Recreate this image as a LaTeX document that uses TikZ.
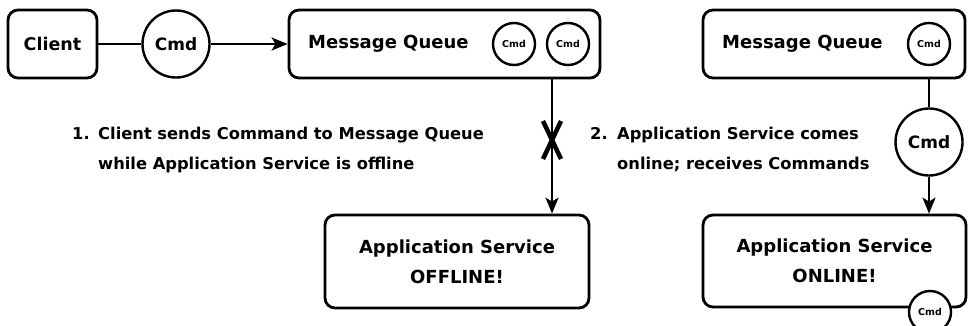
\documentclass[tikz,border=0pt]{standalone}
\usepackage{fontspec}
\setmainfont{DejaVu Sans}
\usetikzlibrary{arrows.meta}
\begin{document}
\begin{tikzpicture}[x=1pt,y=-1pt,
  box/.style={draw, line width=2.8pt, rounded corners=10pt, inner sep=0pt, align=center},
  bigc/.style={draw, circle, line width=2.4pt, minimum size=67pt, inner sep=0pt, font=\bfseries\fontsize{17}{20}\selectfont},
  smallc/.style={draw, circle, line width=2.4pt, minimum size=42pt, inner sep=0pt, fill=white, font=\bfseries\fontsize{9.5}{11}\selectfont},
  lbl/.style={font=\bfseries\fontsize{18}{30}\selectfont},
  steptxt/.style={font=\bfseries\fontsize{16.3}{30}\selectfont, inner sep=0pt, anchor=base west},
  conn/.style={line width=2.3pt},
  arr/.style={conn, -{Stealth[length=16pt, width=13pt, inset=4pt]}},
  xmk/.style={line width=4.5pt},
]
\useasboundingbox (0,0) rectangle (968,325);
% left scenario
\node[box, lbl, font=\bfseries\fontsize{17.5}{20}\selectfont, minimum width=89pt, minimum height=68pt] (client) at (52.5,44) {Client};
\node[bigc] (cmd1) at (176,44) {Cmd};
\node[box, minimum width=311pt, minimum height=68pt] (mq1) at (444.5,44) {};
\node[lbl, inner sep=0pt, anchor=west] (mq1t) at (308,44) {Message Queue};
\node[smallc] (c1) at (514,44) {Cmd};
\node[smallc] (c2) at (568,44) {Cmd};
\node[box, lbl, minimum width=264pt, minimum height=93pt] (app1) at (457,261.5) {Application Service\\OFFLINE!};
\draw[conn] (client.east) -- (cmd1.west);
\draw[arr] (cmd1.east) -- (mq1.west);
\coordinate (qx) at (552,0);
\draw[arr] (mq1.south -| qx) -- (app1.north -| qx);
\coordinate (xm) at (552,140);
\draw[xmk] (xm) ++(-9,-19) -- ++(18,38);
\draw[xmk] (xm) ++(9,-19) -- ++(-18,38);
% step texts
\node[steptxt] (n1) at (72,139) {1.};
\node[steptxt] (s1a) at (98,139) {Client sends Command to Message Queue};
\node[steptxt] (s1b) at (98,169) {while Application Service is offline};
\node[steptxt] (n2) at (590,139) {2.};
\node[steptxt] (s2a) at (617,139) {Application Service comes};
\node[steptxt] (s2b) at (617,169) {online; receives Commands};
% right scenario
\node[box, minimum width=262pt, minimum height=68pt] (mq2) at (834,44) {};
\node[lbl, inner sep=0pt, anchor=west] (mq2t) at (722,44) {Message Queue};
\node[smallc] (c3) at (929,44) {Cmd};
\node[bigc] (cmd2) at (929,142) {Cmd};
\node[box, lbl, minimum width=263pt, minimum height=92pt] (app2) at (834.5,261) {Application Service\\ONLINE!};
\node[smallc] (c4) at (930,312) {Cmd};
\draw[conn] (mq2.south -| cmd2) -- (cmd2.north);
\draw[arr] (cmd2.south) -- (app2.north -| cmd2);
\end{tikzpicture}
\end{document}
